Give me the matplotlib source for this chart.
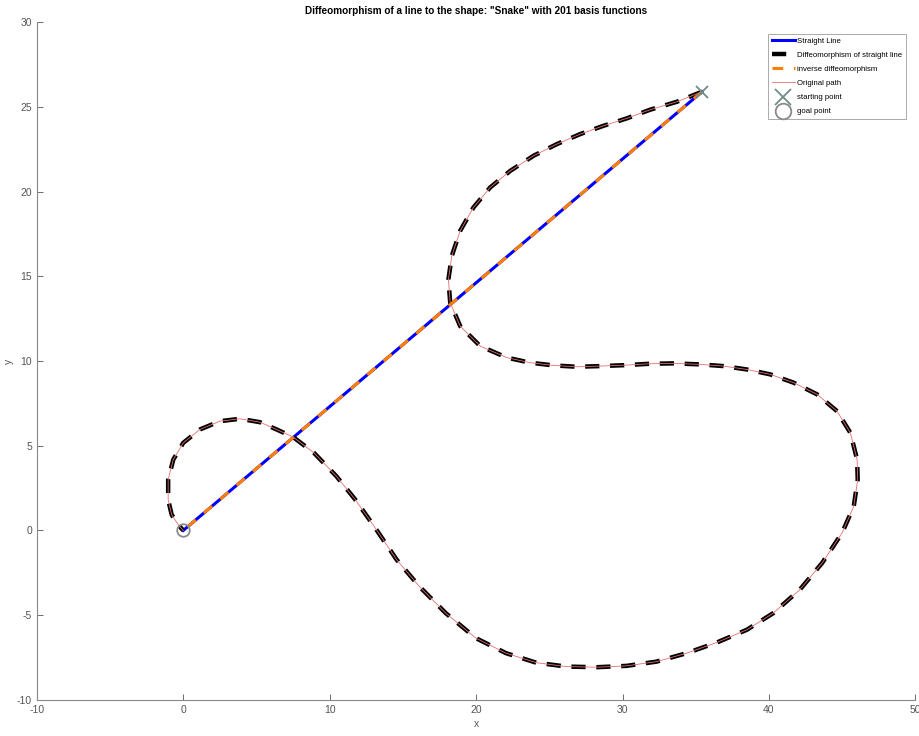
import numpy as np
import matplotlib
matplotlib.use("Agg")
import matplotlib.pyplot as plt

plt.rcParams['font.family'] = ['Liberation Sans Narrow', 'Liberation Sans', 'DejaVu Sans']
plt.rcParams['axes.unicode_minus'] = False

# start / goal of the straight line
start = (35.43, 25.89)
goal = (0.0, 0.0)

# snake path, from start to goal
snake_x = [35.43, 33.72, 31.89, 30.30, 28.70, 27.11, 25.52, 23.92, 22.33, 20.96,
           19.82, 18.91, 18.34, 18.11, 18.23, 18.91, 20.28, 22.10, 23.69, 25.29,
           26.88, 28.48, 30.30, 31.89, 33.49, 35.31, 36.90, 38.50, 40.09, 41.69,
           43.29, 44.65, 45.56, 46.02, 46.06, 45.79, 44.99, 43.63, 42.10, 40.29,
           38.49, 36.44, 34.38, 32.32, 30.27, 28.21, 26.15, 24.10, 22.04, 19.98,
           17.93, 16.12, 14.58, 13.04, 11.75, 10.46, 8.93, 7.51, 6.38, 5.24,
           3.87, 2.51, 1.14, 0.00, -0.68, -1.03, -1.03, -0.79, -0.34, 0.00]
snake_y = [25.89, 25.30, 24.83, 24.32, 23.88, 23.39, 22.80, 22.11, 21.22, 20.24,
           19.06, 17.68, 16.20, 14.82, 13.45, 12.06, 10.88, 10.20, 9.90, 9.74,
           9.66, 9.70, 9.76, 9.84, 9.86, 9.80, 9.70, 9.50, 9.21, 8.72,
           8.03, 7.04, 5.76, 4.18, 3.00, 1.42, -0.15, -1.92, -3.50, -4.88,
           -5.86, -6.61, -7.24, -7.74, -7.99, -8.07, -8.03, -7.80, -7.24, -6.35,
           -4.88, -3.30, -1.73, 0.24, 1.82, 3.20, 4.58, 5.51, 5.96, 6.39,
           6.59, 6.45, 5.96, 5.17, 4.18, 3.00, 1.82, 0.93, 0.34, 0.00]

x_ticks = [-10, 0, 10, 20, 30, 40, 50]
y_ticks = [-10, -5, 0, 5, 10, 15, 20, 25, 30]

line_x = [start[0], goal[0]]
line_y = [start[1], goal[1]]

fig = plt.figure(figsize=(9.2, 7.36), dpi=100)
ax = fig.add_axes([0.040, 0.049, 0.955, 0.921])

ax.plot(line_x, line_y, color='#0000ff', lw=2.2, label='Straight Line')
ax.plot(snake_x, snake_y, color='black', lw=3.2, ls=(0, (3.2, 2.4)),
        label='Diffeomorphism of straight line')
ax.plot(line_x, line_y, color='#ff8000', lw=2.2, ls=(0, (3.5, 3.5)),
        label='inverse diffeomorphism')
ax.plot(snake_x, snake_y, color='#e07070', lw=0.6, label='Original path')
ax.plot(start[0], start[1], 'x', color='#6f8c88', ms=9, mew=1.3,
        label='starting point')
ax.plot(goal[0], goal[1], 'o', mfc='none', mec='#8a8a8a', ms=9, mew=1.3,
        label='goal point')

ax.set_xlim(-10, 50)
ax.set_ylim(-10, 30)
ax.set_xticks(x_ticks)
ax.set_yticks(y_ticks)
ax.tick_params(direction='in', length=4, width=0.6, colors='#555555',
               labelsize=7.5, labelcolor='#555555')
for side in ['top', 'right']:
    ax.spines[side].set_visible(False)
for side in ['left', 'bottom']:
    ax.spines[side].set_color('#888888')
    ax.spines[side].set_linewidth(0.8)

ax.set_xlabel('x', fontsize=7.5, color='#555555', labelpad=3)
ax.set_ylabel('y', fontsize=7.5, color='#555555', labelpad=2)
ax.set_title('Diffeomorphism of a line to the shape: "Snake" with 201 basis functions',
             fontsize=7.2, fontweight='bold', pad=6)

leg = ax.legend(loc='upper right', bbox_to_anchor=(0.9935, 0.988), fontsize=5.6,
                handlelength=3.0, handletextpad=0.3, borderpad=0.45,
                labelspacing=0.85, markerscale=1.25, fancybox=False,
                framealpha=1)
leg.get_frame().set_edgecolor('#aaaaaa')
leg.get_frame().set_linewidth(0.7)

fig.savefig('out.png', dpi=100)
